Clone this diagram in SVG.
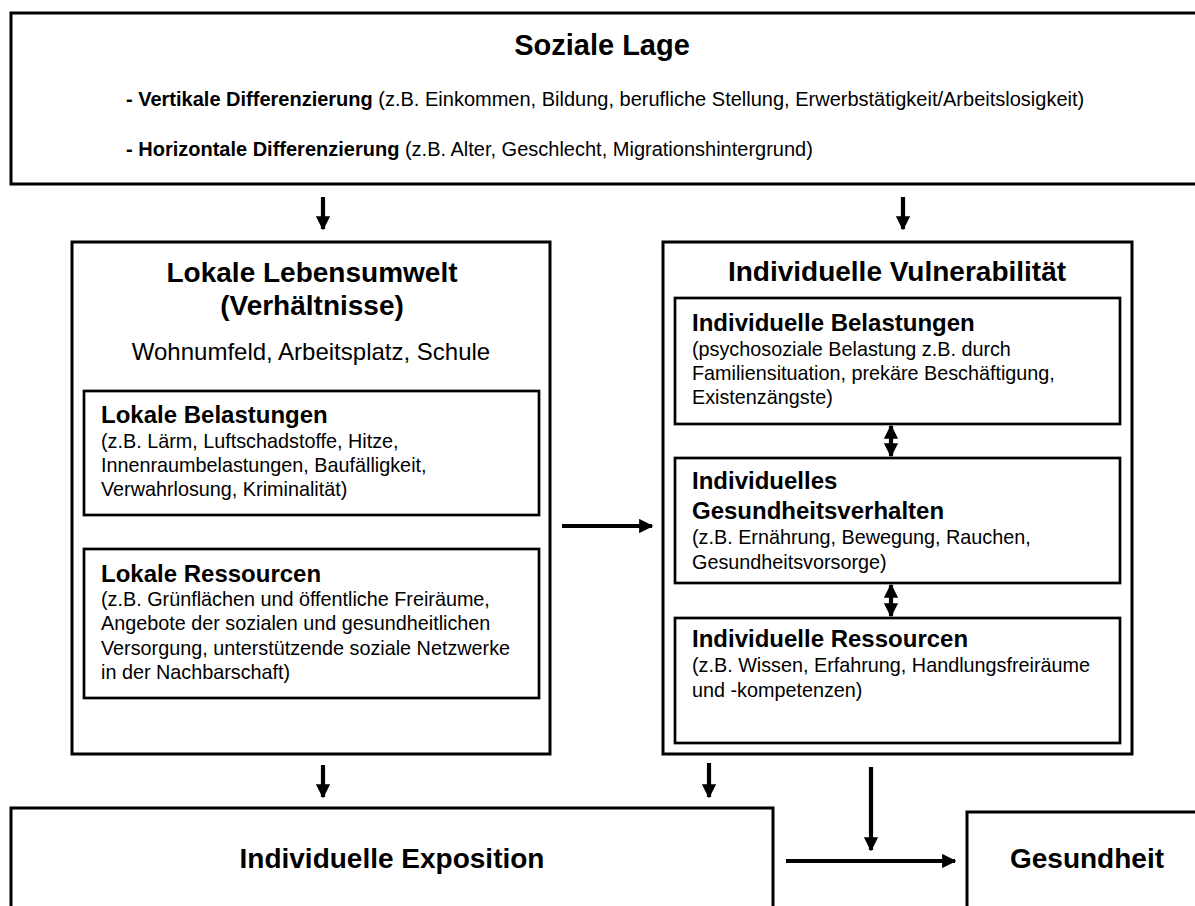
<svg xmlns="http://www.w3.org/2000/svg" width="1195" height="906" viewBox="0 0 1195 906">
<style>
.box{fill:#fff;stroke:#000;stroke-width:3}
.inner{fill:#fff;stroke:#000;stroke-width:2.7}
.t{font-family:"Liberation Sans",Arial,sans-serif;fill:#000}
.h1{font-size:28px;font-weight:bold}
.h2{font-size:24px;font-weight:bold}
.b{font-size:19.8px}
.c{text-anchor:middle}
.conn{stroke:#000;stroke-width:4.2;fill:none}
</style>
<defs>
<marker id="ah" viewBox="0 0 10 10" refX="9" refY="5" markerWidth="3.4" markerHeight="3.4" orient="auto-start-reverse" markerUnits="strokeWidth">
<path d="M0,0 L10,5 L0,10 z" fill="#000"/>
</marker>
</defs>
<rect width="1195" height="906" fill="#fff"/>

<g id="soziale-lage">
<rect class="box" x="11" y="13" width="1200" height="171"/>
<text class="t c" x="602" y="55" font-size="29" font-weight="bold">Soziale Lage</text>
<text class="t" x="126" y="106" font-size="20"><tspan font-weight="bold">- Vertikale Differenzierung</tspan> (z.B. Einkommen, Bildung, berufliche Stellung, Erwerbstätigkeit/Arbeitslosigkeit)</text>
<text class="t" x="126" y="156" font-size="20"><tspan font-weight="bold">- Horizontale Differenzierung</tspan> (z.B. Alter, Geschlecht, Migrationshintergrund)</text>
</g>

<g id="lokale-lebensumwelt">
<rect class="box" x="72" y="242" width="478" height="512"/>
<text class="t h1 c" x="312" y="282">Lokale Lebensumwelt</text>
<text class="t h1 c" x="312" y="315">(Verhältnisse)</text>
<text class="t c" x="311" y="360" font-size="24">Wohnumfeld, Arbeitsplatz, Schule</text>
</g>

<g id="lokale-belastungen">
<rect class="inner" x="84" y="391" width="455" height="124"/>
<text class="t h2" x="101" y="423">Lokale Belastungen</text>
<text class="t b" x="101" y="448">(z.B. Lärm, Luftschadstoffe, Hitze,</text>
<text class="t b" x="101" y="472">Innenraumbelastungen, Baufälligkeit,</text>
<text class="t b" x="101" y="496">Verwahrlosung, Kriminalität)</text>
</g>

<g id="lokale-ressourcen">
<rect class="inner" x="84" y="549" width="455" height="149"/>
<text class="t h2" x="101" y="582">Lokale Ressourcen</text>
<text class="t b" x="101" y="606">(z.B. Grünflächen und öffentliche Freiräume,</text>
<text class="t b" x="101" y="630">Angebote der sozialen und gesundheitlichen</text>
<text class="t b" x="101" y="655">Versorgung, unterstützende soziale Netzwerke</text>
<text class="t b" x="101" y="679">in der Nachbarschaft)</text>
</g>

<g id="individuelle-vulnerabilitaet">
<rect class="box" x="663" y="242" width="469" height="512"/>
<text class="t h1 c" x="897" y="281">Individuelle Vulnerabilität</text>
</g>

<g id="individuelle-belastungen">
<rect class="inner" x="675" y="298" width="445" height="126"/>
<text class="t h2" x="692" y="331">Individuelle Belastungen</text>
<text class="t b" x="692" y="356">(psychosoziale Belastung z.B. durch</text>
<text class="t b" x="692" y="380">Familiensituation, prekäre Beschäftigung,</text>
<text class="t b" x="692" y="404">Existenzängste)</text>
</g>

<g id="gesundheitsverhalten">
<rect class="inner" x="675" y="458" width="445" height="125"/>
<text class="t h2" x="692" y="489">Individuelles</text>
<text class="t h2" x="692" y="519">Gesundheitsverhalten</text>
<text class="t b" x="692" y="544">(z.B. Ernährung, Bewegung, Rauchen,</text>
<text class="t b" x="692" y="569">Gesundheitsvorsorge)</text>
</g>

<g id="individuelle-ressourcen">
<rect class="inner" x="675" y="618" width="445" height="125"/>
<text class="t h2" x="692" y="647">Individuelle Ressourcen</text>
<text class="t b" x="692" y="672">(z.B. Wissen, Erfahrung, Handlungsfreiräume</text>
<text class="t b" x="692" y="697">und -kompetenzen)</text>
</g>

<g id="individuelle-exposition">
<rect class="box" x="11" y="808" width="762" height="110"/>
<text class="t c" x="392" y="868" font-size="28" font-weight="bold">Individuelle Exposition</text>
</g>

<g id="gesundheit">
<rect class="box" x="967" y="812" width="240" height="110"/>
<text class="t c" x="1087" y="868" font-size="28" font-weight="bold">Gesundheit</text>
</g>

<g id="connectors">
<line class="conn" x1="323" y1="197" x2="323" y2="229" marker-end="url(#ah)"/>
<line class="conn" x1="903" y1="197" x2="903" y2="229" marker-end="url(#ah)"/>
<line class="conn" x1="562" y1="526" x2="652" y2="526" marker-end="url(#ah)"/>
<line class="conn" x1="891" y1="426" x2="891" y2="456" marker-start="url(#ah)" marker-end="url(#ah)"/>
<line class="conn" x1="891" y1="585" x2="891" y2="616" marker-start="url(#ah)" marker-end="url(#ah)"/>
<line class="conn" x1="323" y1="765" x2="323" y2="797" marker-end="url(#ah)"/>
<line class="conn" x1="709" y1="763" x2="709" y2="797" marker-end="url(#ah)"/>
<line class="conn" x1="871" y1="767" x2="871" y2="850" marker-end="url(#ah)"/>
<line class="conn" x1="786" y1="861" x2="955" y2="861" marker-end="url(#ah)"/>
</g>
</svg>
